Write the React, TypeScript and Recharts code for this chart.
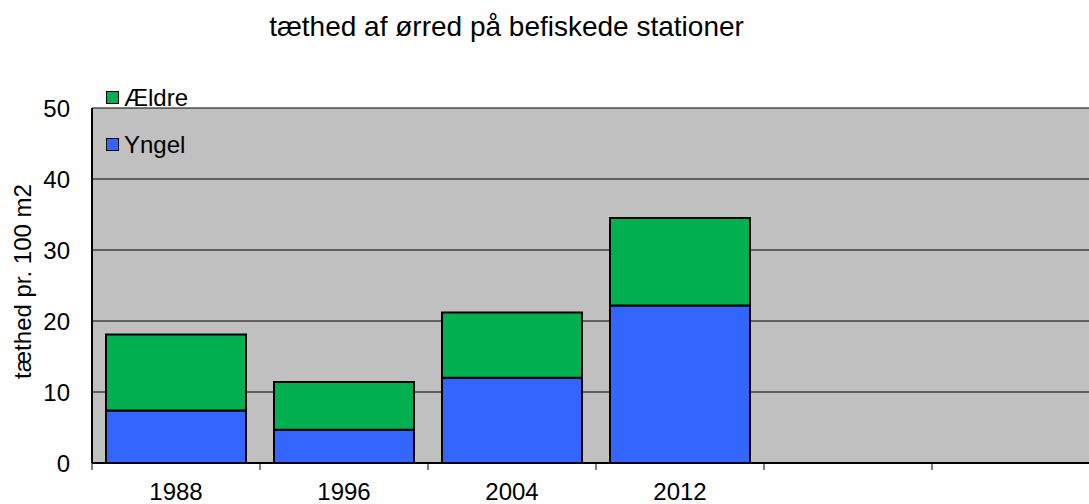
import { BarChart, Bar, XAxis, YAxis, CartesianGrid, Legend } from 'recharts'

// values (tæthed pr. 100 m2)
const years = ['1988', '1996', '2004', '2012', '', '']
const yngel = [7.4, 4.7, 12.0, 22.2, null, null]
const aeldre = [10.7, 6.7, 9.2, 12.3, null, null]
const yTicks = [0, 10, 20, 30, 40, 50]

const data = years.map((year, i) => ({ year, yngel: yngel[i], aeldre: aeldre[i] }))

const FONT = '"Liberation Sans", Arial, sans-serif'
const GREEN = '#00B050'
const BLUE = '#3366FF'
const TICK_MARGIN = 20

const renderLegend = (props: any) => {
  const items = [...(props.payload || [])].reverse()
  return (
    <div style={{ fontFamily: FONT, fontSize: 24, color: '#000' }}>
      {items.map((item: any) => (
        <div key={item.value} style={{ display: 'flex', alignItems: 'center', height: 47 }}>
          <span
            style={{
              width: 11,
              height: 11,
              background: item.color,
              border: '1.5px solid #000',
              marginRight: 5,
              display: 'inline-block',
            }}
          />
          {item.value}
        </div>
      ))}
    </div>
  )
}

// category label + Excel style tick mark on the left edge of each band
const CategoryTick = (props: any) => {
  const { x, y, payload } = props
  const half = payload?.offset ?? 0
  const axisY = y - TICK_MARGIN
  return (
    <g>
      <line x1={x - half} x2={x - half} y1={axisY} y2={axisY + 7} stroke="#000" strokeWidth={1} />
      {payload.index === years.length - 1 && (
        <line x1={x + half} x2={x + half} y1={axisY} y2={axisY + 7} stroke="#000" strokeWidth={1} />
      )}
      <text x={x} y={y} dy="0.71em" textAnchor="middle" fontSize={24} fontFamily={FONT} fill="#000">
        {payload.value}
      </text>
    </g>
  )
}

export default function App() {
  return (
    <div style={{ position: 'absolute', left: 0, top: 0, width: 1089, height: 504, overflow: 'hidden', background: '#fff', fontFamily: FONT }}>
      <div
        style={{
          position: 'absolute',
          left: 0,
          top: 13,
          width: 1013,
          textAlign: 'center',
          fontSize: 28,
          lineHeight: 1,
          color: '#000',
          whiteSpace: 'nowrap',
        }}
      >
        tæthed af ørred på befiskede stationer
      </div>
      <BarChart
        width={1110}
        height={504}
        data={data}
        margin={{ top: 108, right: 10, left: 0, bottom: 0 }}
        barCategoryGap={14}
      >
        <CartesianGrid vertical={false} stroke="#000" strokeWidth={1} fill="#C0C0C0" fillOpacity={1} />
        <XAxis
          dataKey="year"
          height={41}
          axisLine={{ stroke: '#000', strokeWidth: 2 }}
          tickLine={false}
          tickSize={0}
          tickMargin={TICK_MARGIN}
          interval={0}
          tick={<CategoryTick />}
        />
        <YAxis
          width={92}
          domain={[0, 50]}
          ticks={yTicks}
          interval={0}
          axisLine={{ stroke: '#000', strokeWidth: 2 }}
          tickLine={false}
          tickSize={0}
          tickMargin={22}
          tick={{ fill: '#000', fontSize: 24, fontFamily: FONT }}
          label={{
            content: (p: any) => {
              const vb = p.viewBox || { y: 108, height: 355 }
              const cy = vb.y + vb.height / 2 - 4
              return (
                <text
                  x={22}
                  y={cy}
                  transform={`rotate(-90 22 ${cy})`}
                  textAnchor="middle"
                  dominantBaseline="central"
                  fontSize={24}
                  fontFamily={FONT}
                  fill="#000"
                >
                  tæthed pr. 100 m2
                </text>
              )
            },
          }}
        />
        <Legend
          layout="vertical"
          align="center"
          verticalAlign="middle"
          wrapperStyle={{ left: 106, top: 74, width: 'auto' }}
          content={renderLegend}
        />
        <Bar dataKey="yngel" name="Yngel" stackId="a" fill={BLUE} stroke="#000" strokeWidth={2} isAnimationActive={false} />
        <Bar dataKey="aeldre" name="Ældre" stackId="a" fill={GREEN} stroke="#000" strokeWidth={2} isAnimationActive={false} />
      </BarChart>
    </div>
  )
}
